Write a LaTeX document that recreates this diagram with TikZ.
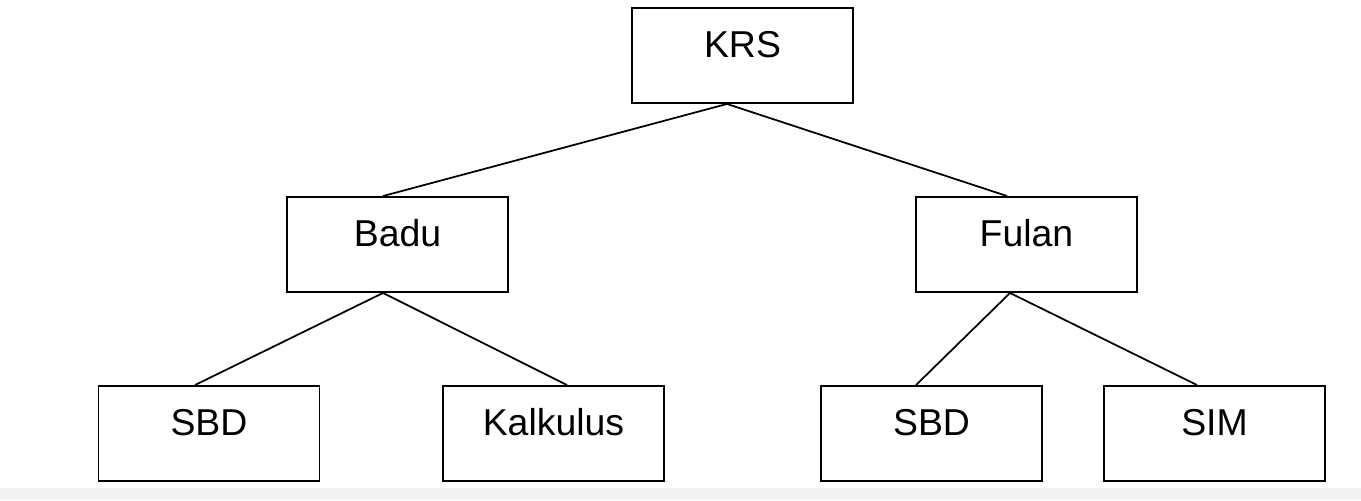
\documentclass[tikz,border=0pt]{standalone}
\usepackage{fontspec}
\setmainfont{Liberation Sans}
\usepackage{tikz}
\usepackage{xcolor}

\definecolor{stripgray}{HTML}{F3F3F3}

\tikzset{
  box/.style={draw, line width=1.1pt, minimum width=4.42cm, minimum height=1.9cm,
    inner sep=0pt, text height=0.56cm, text depth=0.48cm,
    font=\fontsize{21.3}{24}\selectfont},
  edge/.style={line width=1.0pt}
}

\begin{document}
\begin{tikzpicture}[x=0.02cm, y=-0.02cm]
    \useasboundingbox (0,0) rectangle (1361,500);
    \fill[stripgray] (0,488) rectangle (1361,500);

    \node[box] (krs) at (742.5,55.5) {KRS};
    \node[box] (badu) at (397.5,244.5) {Badu};
    \node[box] (fulan) at (1026.5,244.5) {Fulan};
    \foreach \name / \x / \txt in {sbda/209/SBD, kalkulus/553.5/Kalkulus, sbdb/931.5/SBD, sim/1214.5/SIM} {
        \node[box] (\name) at (\x,433.5) {\txt};
    };

    \draw[edge] ([xshift=-0.31cm]krs.south) -- ([xshift=-0.29cm]badu.north);
    \draw[edge] ([xshift=-0.31cm]krs.south) -- ([xshift=-0.39cm]fulan.north);
    \draw[edge] ([xshift=-0.29cm]badu.south) -- ([xshift=-0.28cm]sbda.north);
    \draw[edge] ([xshift=-0.29cm]badu.south) -- ([xshift=0.27cm]kalkulus.north);
    \draw[edge] ([xshift=-0.33cm]fulan.south) -- ([xshift=-0.31cm]sbdb.north);
    \draw[edge] ([xshift=-0.33cm]fulan.south) -- ([xshift=-0.35cm]sim.north);
\end{tikzpicture}
\end{document}
